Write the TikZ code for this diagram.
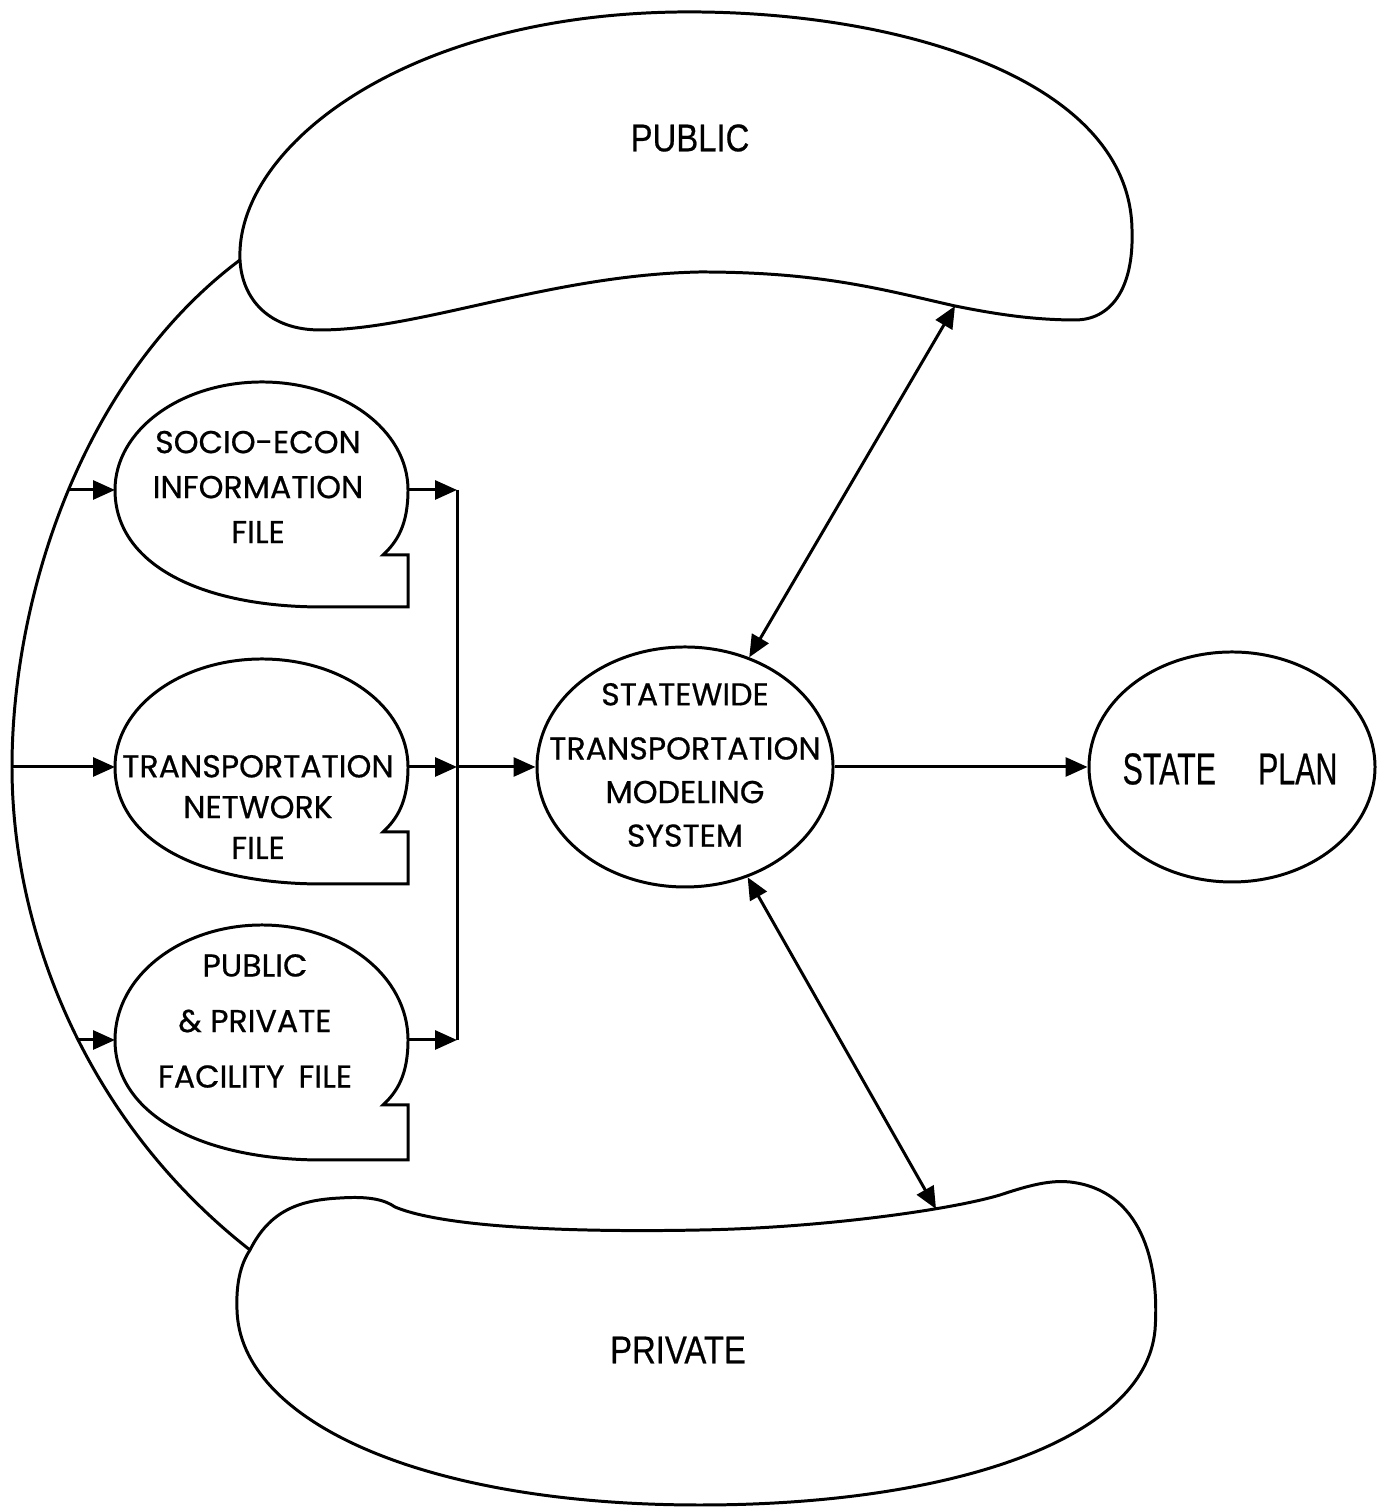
\documentclass[tikz,border=0pt]{standalone}
\usepackage{fontspec}
\setmainfont{Poppins}[FakeBold=0.6]
\newfontfamily\condfont[FakeStretch=0.85, FakeBold=0.5]{Liberation Sans}
\newfontfamily\narrowfont[FakeStretch=0.68, FakeBold=0.5]{Liberation Sans}
\usetikzlibrary{arrows.meta, positioning, shapes.geometric}

\begin{document}
\begin{tikzpicture}[
    line width=0.85pt,
    every node/.style={font=\fontsize{9}{12.8}\selectfont},
    filetext/.style={align=center, inner sep=0pt},
    bigtext/.style={font=\condfont\fontsize{11}{13}\selectfont},
    oval/.style={ellipse, draw, inner sep=0pt},
    arrow/.style={-{Triangle[length=2.2mm, width=1.9mm]}},
    dblarrow/.style={{Triangle[length=2.2mm, width=1.9mm]}-{Triangle[length=2.2mm, width=1.9mm]}}
]
\useasboundingbox (0,0) rectangle (13.76,15.11);

% ============ PUBLIC (TOP) ============
\coordinate (pubjoin) at (2.40,12.51);
\coordinate (pubpt) at (9.55,12.05);
\draw (pubjoin) .. controls (2.35,13.61) and (4.00,14.96) .. (6.80,14.99)
    .. controls (9.00,15.01) and (11.30,14.31) .. (11.32,12.81)
    .. controls (11.34,12.21) and (11.10,11.91) .. (10.75,11.91)
    .. controls (10.30,11.91) and (9.90,11.98) .. (pubpt)
    .. controls (8.80,12.22) and (8.20,12.39) .. (7.00,12.39)
    .. controls (5.50,12.36) and (4.20,11.81) .. (3.20,11.81)
    .. controls (2.70,11.81) and (2.42,12.11) .. cycle;
\node[bigtext] (public) at (6.90,13.73) {PUBLIC};

% ============ PRIVATE (BOTTOM) ============
\coordinate (privjoin) at (2.50,2.61);
\coordinate (privpt) at (9.36,3.02);
\draw (privjoin) .. controls (2.70,3.01) and (3.00,3.11) .. (3.40,3.13)
    .. controls (3.70,3.15) and (3.85,3.11) .. (3.95,3.04)
    .. controls (4.50,2.81) and (6.00,2.79) .. (7.00,2.81)
    .. controls (8.20,2.83) and (9.50,3.01) .. (10.00,3.16)
    .. controls (10.30,3.26) and (10.50,3.31) .. (10.70,3.29)
    .. controls (11.40,3.21) and (11.60,2.51) .. (11.55,1.81)
    .. controls (11.45,0.71) and (9.50,0.06) .. (7.00,0.06)
    .. controls (4.20,0.06) and (2.40,0.91) .. (2.37,2.01)
    .. controls (2.36,2.26) and (2.40,2.46) .. cycle;
\node[bigtext] (private) at (6.78,1.61) {PRIVATE};

% Outer arc
\coordinate (arc1) at (0.68,10.21);
\coordinate (arc2) at (0.12,7.44);
\coordinate (arc3) at (0.79,4.71);
\draw (pubjoin) .. controls (0.80,11.31) and (0.12,9.11) .. (arc2)
    .. controls (0.12,5.81) and (0.85,3.90) .. (privjoin);

% ============ FILES (LEFT) ============
\begin{scope}[shift={(2.62,10.21)}]
    \draw (-1.47,0) .. controls (-1.47,0.60) and (-0.81,1.08) .. (0,1.08)
        .. controls (0.81,1.08) and (1.46,0.60) .. (1.46,0)
        .. controls (1.46,-0.35) and (1.35,-0.52) .. (1.21,-0.65)
        -- (1.46,-0.65) -- (1.46,-1.17) -- (0.60,-1.17)
        .. controls (-0.60,-1.17) and (-1.47,-0.75) .. cycle;
    \coordinate (socioin) at (-1.47,0);
    \coordinate (socioout) at (1.46,0);
\end{scope}
\node[filetext] (socio) at (2.58,10.24) {SOCIO-ECON\\INFORMATION\\FILE};

\begin{scope}[shift={(2.62,7.44)}]
    \draw (-1.47,0) .. controls (-1.47,0.60) and (-0.81,1.08) .. (0,1.08)
        .. controls (0.81,1.08) and (1.46,0.60) .. (1.46,0)
        .. controls (1.46,-0.35) and (1.35,-0.52) .. (1.21,-0.65)
        -- (1.46,-0.65) -- (1.46,-1.17) -- (0.60,-1.17)
        .. controls (-0.60,-1.17) and (-1.47,-0.75) .. cycle;
    \coordinate (transpin) at (-1.47,0);
    \coordinate (transpout) at (1.46,0);
\end{scope}
\node[filetext, font=\fontsize{9}{11.6}\selectfont] (transp) at (2.58,7.04) {TRANSPORTATION\\NETWORK\\FILE};

\begin{scope}[shift={(2.62,4.71)}]
    \draw (-1.47,0) .. controls (-1.47,0.64) and (-0.81,1.15) .. (0,1.15)
        .. controls (0.81,1.15) and (1.46,0.64) .. (1.46,0)
        .. controls (1.46,-0.35) and (1.35,-0.52) .. (1.21,-0.65)
        -- (1.46,-0.65) -- (1.46,-1.20) -- (0.60,-1.20)
        .. controls (-0.60,-1.20) and (-1.47,-0.75) .. cycle;
    \coordinate (facilin) at (-1.47,0);
    \coordinate (facilout) at (1.46,0);
\end{scope}
\node[filetext, font=\fontsize{9}{15.8}\selectfont] (facil) at (2.55,4.90) {PUBLIC\\\& PRIVATE\\FACILITY\hspace{4pt}FILE};

% Inputs from outer arc
\draw[arrow] (arc1) -- (socioin);
\draw[arrow] (arc2) -- (transpin);
\draw[arrow] (arc3) -- (facilin);

% Collector line
\coordinate (bus1) at (4.57,10.21);
\coordinate (bus2) at (4.57,7.44);
\coordinate (bus3) at (4.57,4.71);
\draw (bus1) -- (bus3);
\draw[arrow] (socioout) -- (bus1);
\draw[arrow] (transpout) -- (bus2);
\draw[arrow] (facilout) -- (bus3);

% ============ MODEL AND PLAN ============
\node[oval, minimum width=2.96cm, minimum height=2.40cm] (model) at (6.85,7.44) {};
\node[filetext, font=\fontsize{9}{12.4}\selectfont] (modeltext) at (6.85,7.46) {STATEWIDE\\[3pt]TRANSPORTATION\\MODELING\\SYSTEM};

\node[oval, minimum width=2.86cm, minimum height=2.30cm] (plan) at (12.32,7.44) {};
\node[font=\narrowfont\fontsize{12.7}{15}\selectfont] (plantext) at (12.30,7.42) {STATE\hspace{12pt}PLAN};

\draw[arrow] (bus2) -- (model);
\draw[arrow] (model) -- (plan);
\draw[dblarrow] (pubpt) -- (model);
\draw[dblarrow] (model) -- (privpt);

\end{tikzpicture}
\end{document}
